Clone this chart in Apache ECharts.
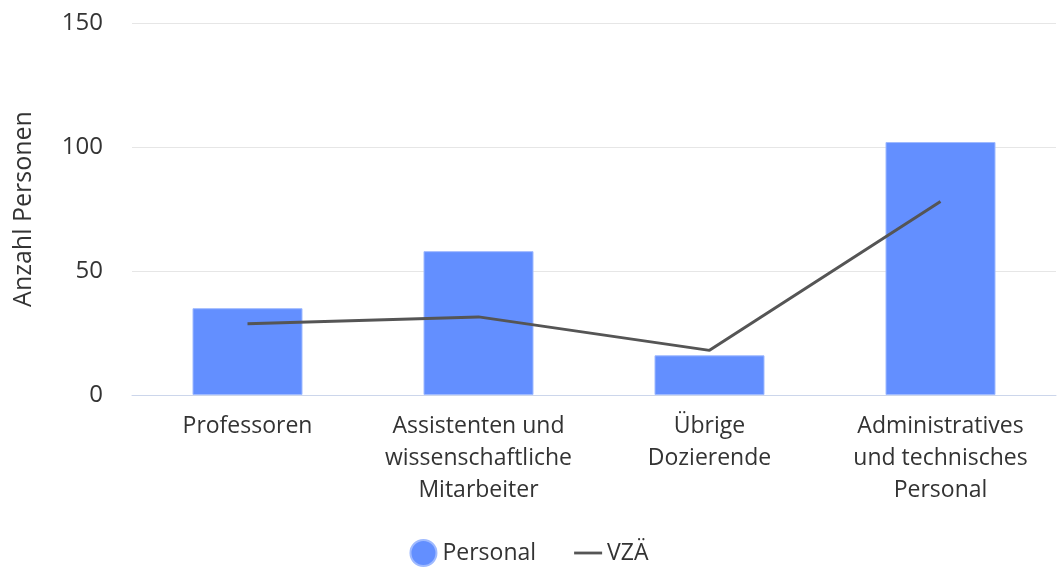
<!DOCTYPE html>
<html>
<head>
<meta charset="utf-8">
<script src="https://cdn.jsdelivr.net/npm/echarts@6/dist/echarts.min.js"></script>
<style>
  html, body { margin: 0; padding: 0; background: #fff; }
  #chart { width: 1058px; height: 569px; }
</style>
</head>
<body>
<div id="chart"></div>
<script>
var categories = ['Professoren', 'Assistenten und\nwissenschaftliche\nMitarbeiter', 'Übrige\nDozierende', 'Administratives\nund technisches\nPersonal'];
var personal = [35, 58, 16, 102];
var vza = [28.7, 31.5, 18, 78];
var yTicks = { min: 0, max: 150, interval: 50 };

var myChart = echarts.init(document.getElementById('chart'));
var font = '"Open Sans", Lato, sans-serif';
var option = {
    animation: false,
    textStyle: { fontFamily: font },
    grid: { left: 132, right: 2, top: 23, bottom: 174, outerBoundsMode: 'none', containLabel: false },
    legend: {
        top: 534,
        left: 'center',
        itemWidth: 28,
        itemHeight: 26,
        itemGap: 38,
        textStyle: { fontSize: 23, color: '#333', fontFamily: font },
        data: [
            { name: 'Personal', icon: 'circle' },
            { name: 'VZÄ', icon: 'path://M0,0 L30,0 L30,3 L0,3 Z' }
        ]
    },
    xAxis: {
        type: 'category',
        data: categories,
        axisLine: { lineStyle: { color: '#ccd6eb', width: 1 } },
        axisTick: { show: false },
        axisLabel: { fontSize: 23, color: '#333', lineHeight: 32, margin: 15, interval: 0, fontFamily: font }
    },
    yAxis: {
        type: 'value',
        min: yTicks.min,
        max: yTicks.max,
        interval: yTicks.interval,
        name: 'Anzahl Personen',
        nameLocation: 'middle',
        nameGap: 96,
        nameTextStyle: { fontSize: 25, color: '#333', fontFamily: font },
        axisLabel: { fontSize: 24, color: '#333', margin: 29, fontFamily: font },
        splitLine: { lineStyle: { color: '#e6e6e6', width: 1 } },
        axisLine: { show: false },
        axisTick: { show: false }
    },
    series: [
        {
            name: 'Personal',
            type: 'bar',
            data: personal,
            barWidth: 110,
            itemStyle: { color: '#638fff', borderColor: '#9fbaff', borderWidth: 1 }
        },
        {
            name: 'VZÄ',
            type: 'line',
            data: vza,
            symbol: 'none',
            lineStyle: { color: '#555555', width: 3 },
            itemStyle: { color: '#555555' }
        }
    ]
};
myChart.setOption(option);
</script>
</body>
</html>
